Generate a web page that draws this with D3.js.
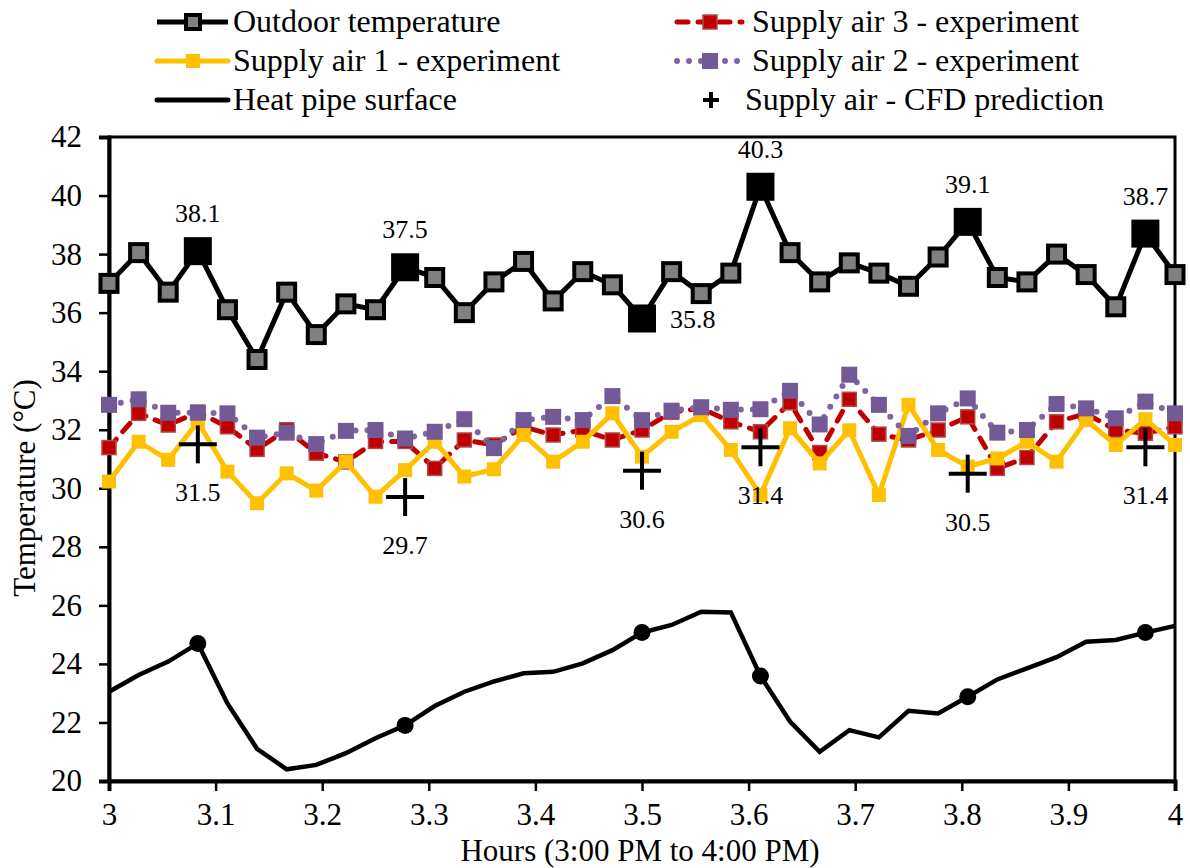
<!DOCTYPE html>
<html><head><meta charset="utf-8">
<script src="https://cdn.jsdelivr.net/npm/d3@7"></script>
<style>body{margin:0;background:#fff}svg{display:block}text{font-family:"Liberation Serif","Times New Roman",serif;fill:#000}</style>
</head><body>
<svg id="c" width="1190" height="868"></svg>
<script>
const hours = d3.range(37).map(i => 3 + i / 36);
const outdoor = [37.0,38.05,36.7,38.1,36.1,34.4,36.7,35.25,36.3,36.1,37.55,37.2,36.0,37.05,37.75,36.4,37.4,36.95,35.8,37.4,36.65,37.35,40.3,38.05,37.05,37.7,37.35,36.9,37.9,39.1,37.2,37.05,38.0,37.3,36.2,38.7,37.3];
const supply3 = [31.39,32.56,32.16,32.6,32.1,31.33,32.0,31.2,30.9,31.6,31.6,30.68,31.65,31.48,32.1,31.82,31.99,31.65,31.99,32.6,32.73,32.27,31.93,32.92,31.22,33.04,31.85,31.65,31.99,32.44,30.68,31.05,32.27,32.55,31.99,31.88,32.1];
const supply1 = [30.23,31.59,30.97,32.27,30.57,29.49,30.51,29.92,30.91,29.71,30.62,31.59,30.4,30.65,31.82,30.91,31.59,32.56,31.08,31.93,32.5,31.31,29.77,32.05,30.85,31.98,29.77,32.85,31.31,30.74,31.02,31.59,30.91,32.33,31.48,32.36,31.48];
const supply2 = [32.85,33.04,32.58,32.58,32.56,31.73,31.9,31.51,31.96,31.99,31.7,31.93,32.36,31.37,32.33,32.44,32.33,33.15,32.33,32.65,32.77,32.68,32.7,33.33,32.18,33.88,32.85,31.79,32.56,33.07,31.9,31.99,32.88,32.73,32.39,32.96,32.56];
const heatPipe = [23.05,23.62,24.08,24.7,22.65,21.1,20.4,20.55,20.95,21.46,21.9,22.56,23.05,23.4,23.68,23.73,24.02,24.47,25.07,25.33,25.78,25.76,23.59,22.03,21.0,21.74,21.49,22.4,22.31,22.88,23.47,23.85,24.23,24.76,24.82,25.07,25.3];
const keyIdx = [3,10,18,22,29,35];
const outdoorLabels = ["38.1","37.5","35.8","40.3","39.1","38.7"];
const cfd = [31.5,29.7,30.6,31.4,30.5,31.4];
const cfdLabels = ["31.5","29.7","30.6","31.4","30.5","31.4"];
const xTicks = [3,3.1,3.2,3.3,3.4,3.5,3.6,3.7,3.8,3.9,4];
const yTicks = [20,22,24,26,28,30,32,34,36,38,40,42];
const legendNames = ["Outdoor temperature","Supply air 1 - experiment","Heat pipe surface","Supply air 3 - experiment","Supply air 2 - experiment","Supply air - CFD prediction"];

const svg = d3.select("#c");
const L = 109, R = 1175, T = 137, B = 781;
const x = d3.scaleLinear().domain([3,4]).range([L,R]);
const y = d3.scaleLinear().domain([20,42]).range([B,T]);

// frame
svg.append("rect").attr("x",L).attr("y",T).attr("width",R-L).attr("height",B-T)
  .attr("fill","none").attr("stroke","#000").attr("stroke-width",3);

// axes
const ya = svg.append("g").attr("transform",`translate(${L},0)`)
  .call(d3.axisLeft(y).tickValues(yTicks).tickSize(10).tickPadding(17).tickFormat(d3.format("d")));
const xa = svg.append("g").attr("transform",`translate(0,${B})`)
  .call(d3.axisBottom(x).tickValues(xTicks).tickSize(10).tickPadding(12).tickFormat(d => d===3||d===4 ? String(d) : d.toFixed(1)));
[ya,xa].forEach(g => {
  g.select(".domain").attr("stroke","#000").attr("stroke-width",4);
  g.selectAll(".tick line").attr("stroke","#000").attr("stroke-width",2.5);
  g.selectAll(".tick text").style("font-family",'"Liberation Serif",serif').style("font-size","31px").attr("fill","#000");
});

// axis titles
svg.append("text").attr("x",640).attr("y",861).attr("text-anchor","middle").style("font-size","31px").text("Hours (3:00 PM to 4:00 PM)");
svg.append("text").attr("transform","translate(35,488) rotate(-90)").attr("text-anchor","middle").style("font-size","31px").text("Temperature (°C)");

const line = d3.line().x((d,i)=>x(hours[i])).y(d=>y(d));

// heat pipe
svg.append("path").datum(heatPipe).attr("d",line).attr("fill","none").attr("stroke","#000").attr("stroke-width",4.5).attr("stroke-linejoin","miter");
svg.selectAll(".hp").data(keyIdx).join("circle").attr("cx",i=>x(hours[i])).attr("cy",i=>y(heatPipe[i])).attr("r",8.5).attr("fill","#000");

// outdoor
svg.append("path").datum(outdoor).attr("d",line).attr("fill","none").attr("stroke","#000").attr("stroke-width",5);
svg.selectAll(".od").data(outdoor).join("rect")
  .attr("x",(d,i)=>x(hours[i])-8.5).attr("y",d=>y(d)-8.5).attr("width",17).attr("height",17)
  .attr("fill","#808080").attr("stroke","#000").attr("stroke-width",4);
svg.selectAll(".odk").data(keyIdx).join("rect")
  .attr("x",i=>x(hours[i])-13).attr("y",i=>y(outdoor[i])-13).attr("width",26).attr("height",26)
  .attr("fill","#000").attr("stroke","#000").attr("stroke-width",2);
svg.selectAll(".odl").data(keyIdx).join("text")
  .attr("x",(i,k)=> k===2 ? x(hours[i])+28 : x(hours[i]))
  .attr("y",(i,k)=> k===2 ? y(outdoor[i])+10 : y(outdoor[i])-29)
  .attr("text-anchor",(i,k)=> k===2 ? "start" : "middle")
  .style("font-size","26px").text((i,k)=>outdoorLabels[k]);

// supply 3 (red dashed)
svg.append("path").datum(supply3).attr("d",line).attr("fill","none").attr("stroke","#C00000").attr("stroke-width",5)
  .attr("stroke-dasharray","11 10").attr("stroke-linecap","round");
svg.selectAll(".s3").data(supply3).join("rect")
  .attr("x",(d,i)=>x(hours[i])-7).attr("y",d=>y(d)-7).attr("width",14).attr("height",14)
  .attr("fill","#C00000").attr("stroke","#B04848").attr("stroke-width",1.5);

// supply 1 (yellow)
svg.append("path").datum(supply1).attr("d",line).attr("fill","none").attr("stroke","#FFC000").attr("stroke-width",5);
svg.selectAll(".s1").data(supply1).join("rect")
  .attr("x",(d,i)=>x(hours[i])-7).attr("y",d=>y(d)-7).attr("width",14).attr("height",14)
  .attr("fill","#FFC000");

// supply 2 (purple dotted)
svg.append("path").datum(supply2).attr("d",line).attr("fill","none").attr("stroke","#8064A2").attr("stroke-width",6)
  .attr("stroke-dasharray","0 12").attr("stroke-linecap","round");
svg.selectAll(".s2").data(supply2).join("rect")
  .attr("x",(d,i)=>x(hours[i])-8).attr("y",d=>y(d)-8).attr("width",16).attr("height",16)
  .attr("fill","#735A96");

// CFD plus markers
const plus = (g, cx, cy, h, w) => {
  g.append("line").attr("x1",cx-h).attr("x2",cx+h).attr("y1",cy).attr("y2",cy).attr("stroke","#000").attr("stroke-width",w);
  g.append("line").attr("x1",cx).attr("x2",cx).attr("y1",cy-h).attr("y2",cy+h).attr("stroke","#000").attr("stroke-width",w);
};
const cg = svg.append("g");
cfd.forEach((v,k)=> plus(cg, x(hours[keyIdx[k]]), y(v), 19, 4));
svg.selectAll(".cfdl").data(cfd).join("text")
  .attr("x",(v,k)=>x(hours[keyIdx[k]])).attr("y",v=>y(v)+57).attr("text-anchor","middle")
  .style("font-size","26px").text((v,k)=>cfdLabels[k]);

// legend
const lg = svg.append("g");
const rowY = [22,61,100];
lg.append("line").attr("x1",157).attr("x2",228).attr("y1",rowY[0]).attr("y2",rowY[0]).attr("stroke","#000").attr("stroke-width",5);
lg.append("rect").attr("x",186).attr("y",rowY[0]-7).attr("width",14).attr("height",14).attr("fill","#808080").attr("stroke","#000").attr("stroke-width",4);
lg.append("line").attr("x1",157).attr("x2",228).attr("y1",rowY[1]).attr("y2",rowY[1]).attr("stroke","#FFC000").attr("stroke-width",5).attr("stroke-linecap","round");
lg.append("rect").attr("x",186).attr("y",rowY[1]-7).attr("width",14).attr("height",14).attr("fill","#FFC000");
lg.append("line").attr("x1",157).attr("x2",228).attr("y1",rowY[2]).attr("y2",rowY[2]).attr("stroke","#000").attr("stroke-width",5).attr("stroke-linecap","round");
lg.append("line").attr("x1",677).attr("x2",742).attr("y1",rowY[0]).attr("y2",rowY[0]).attr("stroke","#C00000").attr("stroke-width",5)
  .attr("stroke-dasharray","11 10").attr("stroke-linecap","round");
lg.append("rect").attr("x",703).attr("y",rowY[0]-7).attr("width",14).attr("height",14).attr("fill","#C00000").attr("stroke","#B04848").attr("stroke-width",1.5);
lg.append("line").attr("x1",677).attr("x2",742).attr("y1",rowY[1]).attr("y2",rowY[1]).attr("stroke","#8064A2").attr("stroke-width",6)
  .attr("stroke-dasharray","0 12").attr("stroke-linecap","round");
lg.append("rect").attr("x",702).attr("y",rowY[1]-8).attr("width",16).attr("height",16).attr("fill","#735A96");
plus(lg, 711, rowY[2], 8, 4);
const lx = [233,233,233,752,752,745];
const ly = [rowY[0],rowY[1],rowY[2],rowY[0],rowY[1],rowY[2]];
lg.selectAll("text").data(legendNames).join("text")
  .attr("x",(d,i)=>lx[i]).attr("y",(d,i)=>ly[i]+10).style("font-size","32px").text(d=>d);
</script>
</body></html>
